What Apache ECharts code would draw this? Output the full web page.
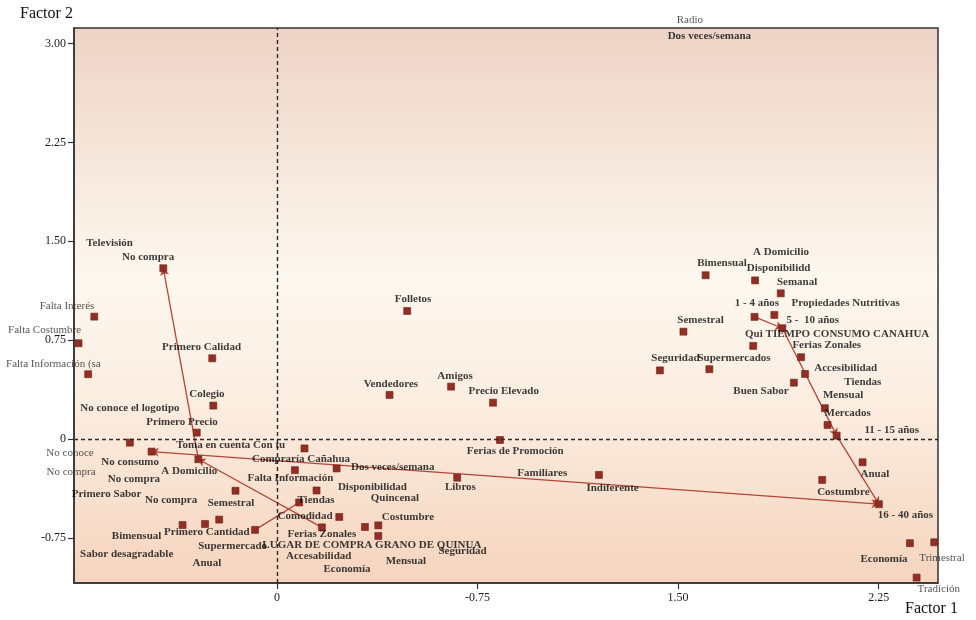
<!DOCTYPE html>
<html>
<head>
<meta charset="utf-8">
<script src="https://cdn.jsdelivr.net/npm/echarts@6/dist/echarts.min.js"></script>
<style>
  html, body { margin: 0; padding: 0; background: #ffffff; }
  #chart { width: 976px; height: 620px; }
</style>
</head>
<body>
<div id="chart"></div>
<script>
// Correspondence map: Factor 1 (horizontal) vs Factor 2 (vertical)

const xTickValues = [0, 0.75, 1.5, 2.25];
const xTickLabels = ['0', '-0.75', '1.50', '2.25'];
const yTickValues = [-0.75, 0, 0.75, 1.5, 2.25, 3.0];
const yTickLabels = ['-0.75', '0', '0.75', '1.50', '2.25', '3.00'];

// category points [factor1, factor2]
const categoryPoints = [
  [-0.425, 1.295], [-0.683, 0.928], [-0.742, 0.726], [-0.706, 0.491],
  [-0.242, 0.612], [-0.238, 0.253], [-0.300, 0.048], [-0.550, -0.028],
  [-0.469, -0.096], [-0.294, -0.154], [-0.155, -0.393], [-0.353, -0.653],
  [-0.269, -0.645], [-0.216, -0.612], [-0.082, -0.690], [0.103, -0.072],
  [0.067, -0.237], [0.223, -0.224], [0.148, -0.391], [0.083, -0.482],
  [0.233, -0.592], [0.168, -0.671], [0.329, -0.668], [0.379, -0.656],
  [0.379, -0.736], [0.674, -0.294], [0.487, 0.971], [0.421, 0.334],
  [0.651, 0.397], [0.808, 0.275], [0.834, -0.008], [1.204, -0.273],
  [1.603, 1.242], [1.788, 1.203], [1.884, 1.105], [1.860, 0.941],
  [1.786, 0.926], [1.890, 0.840], [1.520, 0.814], [1.781, 0.706],
  [1.960, 0.620], [1.432, 0.520], [1.617, 0.529], [1.975, 0.493],
  [1.933, 0.427], [2.049, 0.233], [2.059, 0.106], [2.093, 0.025],
  [2.190, -0.177], [2.039, -0.311], [2.251, -0.495], [2.367, -0.791],
  [2.458, -0.784], [2.392, -1.052]
];

// category names and where their text sits [name, factor1, factor2]
const categoryLabels = [
  ['Radio', 1.544, 3.179],
  ['Dos veces/semana', 1.617, 3.058],
  ['Televisión', -0.626, 1.485],
  ['No compra', -0.482, 1.376],
  ['Falta Interés', -0.785, 1.009],
  ['Falta Costumbre', -0.869, 0.827],
  ['Falta Información (sa', -0.836, 0.569],
  ['Primero Calidad', -0.282, 0.700],
  ['Colegio', -0.262, 0.341],
  ['No conoce el logotipo', -0.550, 0.233],
  ['Primero Precio', -0.355, 0.124],
  ['Toma en cuenta Con tu', -0.173, -0.046],
  ['No conoce', -0.774, -0.108],
  ['No consumo', -0.549, -0.177],
  ['A Domicilio', -0.328, -0.241],
  ['Compraría Cañahua', 0.090, -0.154],
  ['No compra', -0.770, -0.253],
  ['No compra', -0.535, -0.306],
  ['Falta Información', 0.050, -0.298],
  ['Primero Sabor', -0.637, -0.417],
  ['No compra', -0.396, -0.468],
  ['Semestral', -0.172, -0.488],
  ['Tiendas', 0.146, -0.468],
  ['Comodidad', 0.105, -0.584],
  ['Bimensual', -0.525, -0.736],
  ['Primero Cantidad', -0.262, -0.708],
  ['Ferias Zonales', 0.168, -0.723],
  ['Supermercado', -0.166, -0.810],
  ['LUGAR DE COMPRA GRANO DE QUINUA', 0.355, -0.807],
  ['Accesabilidad', 0.156, -0.893],
  ['Economía', 0.262, -0.989],
  ['Sabor desagradable', -0.562, -0.873],
  ['Anual', -0.262, -0.943],
  ['Mensual', 0.482, -0.931],
  ['Seguridad', 0.694, -0.855],
  ['Dos veces/semana', 0.433, -0.215],
  ['Disponibilidad', 0.357, -0.366],
  ['Quincenal', 0.441, -0.450],
  ['Costumbre', 0.490, -0.594],
  ['Libros', 0.686, -0.369],
  ['Ferias de Promoción', 0.891, -0.091],
  ['Familiares', 0.992, -0.256],
  ['Precio Elevado', 0.848, 0.366],
  ['Vendedores', 0.426, 0.417],
  ['Folletos', 0.509, 1.060],
  ['Amigos', 0.666, 0.478],
  ['Indiferente', 1.255, -0.374],
  ['Bimensual', 1.664, 1.333],
  ['A Domicilio', 1.885, 1.417],
  ['Disponibilidd', 1.876, 1.295],
  ['Semanal', 1.945, 1.193],
  ['1 - 4 años', 1.795, 1.034],
  ['Propiedades Nutritivas', 2.127, 1.034],
  ['5 -  10 años', 2.004, 0.903],
  ['Semestral', 1.584, 0.903],
  ['Qui TIEMPO CONSUMO CANAHUA', 2.095, 0.794],
  ['Ferias Zonales', 2.056, 0.708],
  ['Seguridad', 1.490, 0.612],
  ['Supermercados', 1.709, 0.612],
  ['Accesibilidad', 2.127, 0.536],
  ['Tiendas', 2.191, 0.430],
  ['Buen Sabor', 1.810, 0.366],
  ['Mensual', 2.117, 0.329],
  ['Mercados', 2.134, 0.195],
  ['11 - 15 años', 2.299, 0.068],
  ['Anual', 2.236, -0.266],
  ['Costumbre', 2.118, -0.404],
  ['16 - 40 años', 2.350, -0.582],
  ['Economía', 2.270, -0.910],
  ['Trimestral', 2.487, -0.901],
  ['Tradición', 2.475, -1.138]
];

// connecting segments between categories
const arrowSegments = [          // arrowhead at the second end
  [[-0.294, -0.154], [-0.425, 1.295]],
  [[0.168, -0.671], [-0.294, -0.154]],
  [[1.786, 0.926], [1.890, 0.840]],
  [[1.890, 0.840], [2.093, 0.025]],
  [[2.093, 0.025], [2.251, -0.495]]
];
const doubleArrowSegments = [    // arrowheads at both ends
  [[-0.469, -0.096], [2.251, -0.495]]
];
const plainSegments = [
  [[-0.082, -0.690], [0.083, -0.482]]
];

const X_MIN = -0.759, X_MAX = 2.472;
const Y_MIN = -1.093, Y_MAX = 3.118;

const SERIF = '"Liberation Serif", "DejaVu Serif", serif';
const MARK_COLOR = '#922e24';
const LINK_COLOR = '#b5453a';

function inPlot(x, y) {
  return x >= X_MIN && x <= X_MAX && y >= Y_MIN && y <= Y_MAX;
}

const chart = echarts.init(document.getElementById('chart'), null, { renderer: 'canvas' });

const option = {
  animation: false,
  backgroundColor: '#ffffff',
  grid: {
    left: 74, right: 38, top: 28, bottom: 37,
    show: true,
    borderColor: '#333333',
    borderWidth: 1.5,
    backgroundColor: new echarts.graphic.LinearGradient(0, 0, 0, 1, [
      { offset: 0, color: '#edd3c5' },
      { offset: 0.28, color: '#f7eadf' },
      { offset: 0.45, color: '#fdf8ef' },
      { offset: 0.68, color: '#fbede0' },
      { offset: 1, color: '#f5d4bd' }
    ])
  },
  xAxis: {
    type: 'value',
    min: X_MIN, max: X_MAX,
    axisLine: { show: true, onZero: false, lineStyle: { color: '#333', width: 1.5 } },
    splitLine: { show: false },
    axisTick: { show: true, customValues: xTickValues, length: 6, lineStyle: { color: '#333', width: 1.2 } },
    axisLabel: {
      customValues: xTickValues,
      margin: 9,
      fontFamily: SERIF, fontSize: 12, color: '#1a1a1a',
      formatter: v => xTickLabels[xTickValues.findIndex(t => Math.abs(t - v) < 1e-6)] || ''
    }
  },
  yAxis: {
    type: 'value',
    min: Y_MIN, max: Y_MAX,
    axisLine: { show: true, onZero: false, lineStyle: { color: '#333', width: 1.5 } },
    splitLine: { show: false },
    axisTick: { show: true, customValues: yTickValues, length: 6, lineStyle: { color: '#333', width: 1.2 } },
    axisLabel: {
      customValues: yTickValues,
      margin: 8,
      fontFamily: SERIF, fontSize: 12, color: '#1a1a1a',
      formatter: v => yTickLabels[yTickValues.findIndex(t => Math.abs(t - v) < 1e-6)] || ''
    }
  },
  graphic: [
    { type: 'text', left: 20, top: 6, style: { text: 'Factor 2', font: '16px ' + SERIF, fill: '#111' } },
    { type: 'text', left: 905, top: 601, style: { text: 'Factor 1', font: '16px ' + SERIF, fill: '#111' } }
  ],
  series: [
    {
      type: 'lines',
      coordinateSystem: 'cartesian2d',
      silent: true,
      symbol: ['none', 'arrow'],
      symbolSize: 7,
      lineStyle: { color: LINK_COLOR, width: 1.3, opacity: 1 },
      data: arrowSegments.map(c => ({ coords: c })),
      z: 3
    },
    {
      type: 'lines',
      coordinateSystem: 'cartesian2d',
      silent: true,
      symbol: ['arrow', 'arrow'],
      symbolSize: 7,
      lineStyle: { color: LINK_COLOR, width: 1.3, opacity: 1 },
      data: doubleArrowSegments.map(c => ({ coords: c })),
      z: 3
    },
    {
      type: 'lines',
      coordinateSystem: 'cartesian2d',
      silent: true,
      symbol: ['none', 'none'],
      lineStyle: { color: LINK_COLOR, width: 1.3, opacity: 1 },
      data: plainSegments.map(c => ({ coords: c })),
      z: 3
    },
    {
      type: 'scatter',
      symbol: 'rect',
      symbolSize: 7,
      clip: false,
      silent: true,
      itemStyle: { color: MARK_COLOR, opacity: 1, borderColor: '#6e241b', borderWidth: 0.6 },
      data: categoryPoints,
      z: 4,
      markLine: {
        silent: true,
        symbol: ['none', 'none'],
        label: { show: false },
        lineStyle: { color: '#2a2a2a', type: [4, 3], width: 1.4 },
        data: [{ xAxis: 0 }, { yAxis: 0 }]
      }
    },
    {
      type: 'scatter',
      symbolSize: 0,
      clip: false,
      silent: true,
      data: categoryLabels.map(([name, x, y]) => ({
        name: name,
        value: [x, y],
        label: {
          fontWeight: inPlot(x, y) ? 'bold' : 'normal',
          color: inPlot(x, y) ? '#0a0a0a' : '#2a2a2a'
        }
      })),
      label: {
        show: true,
        position: 'inside',
        formatter: '{b}',
        fontFamily: SERIF,
        fontSize: 11,
        color: '#0a0a0a'
      },
      z: 5
    }
  ]
};

chart.setOption(option);
</script>
</body>
</html>
